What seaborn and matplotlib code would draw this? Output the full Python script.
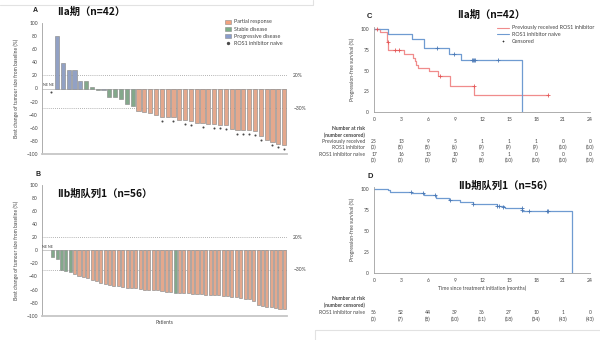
import matplotlib
matplotlib.use("Agg")
import matplotlib.pyplot as plt
import matplotlib.transforms as mtransforms
from matplotlib.lines import Line2D
from matplotlib.patches import Patch
import seaborn as sns
import pandas as pd

# ---------------- data ----------------
# Cohort IIa waterfall: 42 patients, first two not evaluable (NE)
iia_change = [None, None, 80, 39, 28, 28, 12, 11, 2, -2, -3, -13, -13, -16, -24, -26,
              -35, -36, -38, -40, -43, -44, -44, -48, -48, -49, -53, -53, -54, -54, -55, -56,
              -62, -63, -64, -64, -65, -73, -79, -81, -84, -86]
iia_response = (["NE", "NE", "PD", "PD", "PD", "PD", "PD", "SD", "SD", "SD", "PD",
                 "SD", "SD", "SD", "SD", "SD"] + ["PR"] * 26)
iia_naive = ([0, 1] + [0] * 14 +
             [0, 0, 0, 0, 1, 0, 1, 0, 1, 1, 0, 1, 0, 1, 1, 1, 0, 1, 1, 1, 1, 1, 0, 1, 1, 1])

# Cohort IIb-1 waterfall: 56 patients, first two not evaluable
iib_change = ([None, None, -10, -14, -30, -31, -33,
               -36, -40, -41, -42, -46, -47, -50, -51, -53, -54, -55, -56, -57, -58, -58,
               -59, -60, -60, -61, -61, -62, -63, -64,
               -65,
               -65, -66, -66, -67, -67, -67, -68, -68, -69, -69, -70, -70, -71, -72, -73,
               -74, -75, -77,
               -84, -85, -86, -87, -88, -89, -90])
iib_response = (["NE", "NE"] + ["SD"] * 5 + ["PR"] * 23 + ["SD"] + ["PR"] * 25)

# Progression-free survival step curves (months, %)
c_prev_t = [0, 0.7, 1.4, 1.6, 3.3, 4.3, 4.5, 4.7, 4.9, 6.1, 7.1, 8.4, 11.1, 19.3]
c_prev_s = [100, 96, 84, 75, 70, 65, 61, 57, 53, 49, 43, 31, 21, 21]
c_prev_cens_t = [0.35, 1.5, 2.3, 2.8, 7.3, 11.1, 19.3]
c_prev_cens_s = [100, 84, 75, 75, 43, 31, 21]

c_naive_t = [0, 1.5, 4.2, 5.5, 5.6, 8.3, 9.7, 16.4]
c_naive_s = [100, 94.1, 88.2, 82.4, 76.5, 70.1, 63.1, 0]
c_naive_cens_t = [7.0, 8.9, 10.9, 11.0, 11.1, 11.2, 13.8]
c_naive_cens_s = [76.5, 70.1, 63.1, 63.1, 63.1, 63.1, 63.1]

d_t = [0, 1.5, 1.8, 4.2, 5.6, 6.9, 8.3, 9.6, 11.0, 13.7, 14.4, 14.6, 16.4, 22.0]
d_s = [100, 98.5, 96.4, 94.5, 92.5, 88.6, 86.2, 83.8, 81.8, 79.8, 78.2, 76.6, 73.4, 0]
d_cens_t = [4.1, 5.4, 6.8, 8.4, 11.0, 13.7, 13.9, 14.3, 16.4, 16.4, 17.2, 19.2, 19.3]
d_cens_s = [96.4, 94.5, 92.5, 86.2, 81.8, 79.8, 79.8, 78.2, 76.6, 74.6, 73.4, 73.4, 73.4]

risk_times = [0, 3, 6, 9, 12, 15, 18, 21, 24]
c_prev_risk = [25, 13, 9, 5, 1, 1, 1, 0, 0]
c_prev_cens = [0, 5, 5, 6, 9, 9, 9, 10, 10]
c_naive_risk = [17, 16, 13, 10, 3, 1, 0, 0, 0]
c_naive_cens = [0, 0, 0, 2, 8, 10, 10, 10, 10]
d_risk = [56, 52, 44, 39, 36, 27, 10, 1, 0]
d_cens = [0, 7, 8, 10, 11, 18, 34, 43, 43]

# ---------------- styling ----------------
sns.set_theme(style="white")
plt.rcParams['font.family'] = ['Lato', 'Noto Sans CJK SC', 'DejaVu Sans']
CJK = ['Noto Sans CJK SC', 'DejaVu Sans']

PAL = {"PR": "#F2A27F", "SD": "#7DAE88", "PD": "#8A9DCC"}
EDGE = "#8c8c8c"
RED = "#F08C8C"
BLUE = "#6F9BD1"
BLUE_D = "#4B79B5"
GREY = "#8f8f8f"
TXT = "#444444"
SMALL = 3.6

W, H = 600, 340
fig = plt.figure(figsize=(6, 3.4), dpi=100)


def rect(l, t, r, b):
    return [l / W, 1 - b / H, (r - l) / W, (b - t) / H]


def ftxt(px, py, s, **kw):
    kw.setdefault("va", "center")
    kw.setdefault("fontsize", SMALL)
    kw.setdefault("color", TXT)
    fig.text(px / W, 1 - py / H, s, **kw)


# faint page frames
fig.add_artist(Line2D([0, 313 / W], [1 - 5 / H] * 2, color="#e2e2e2", lw=0.8))
fig.add_artist(Line2D([313 / W] * 2, [1, 1 - 5 / H], color="#e2e2e2", lw=0.8))
fig.add_artist(Line2D([315 / W, 1], [1 - 330 / H] * 2, color="#e2e2e2", lw=0.8))
fig.add_artist(Line2D([315 / W] * 2, [0, 1 - 330 / H], color="#e2e2e2", lw=0.8))


def waterfall(ax, change, response, xlim, width):
    df = pd.DataFrame({"pos": range(1, len(change) + 1),
                       "change": change, "response": response})
    df = df[df["response"] != "NE"]
    ax.axhline(0, color="#b5b5b5", lw=0.5, zorder=0)
    sns.barplot(data=df, x="pos", y="change", hue="response", palette=PAL,
                native_scale=True, dodge=False, width=width, errorbar=None,
                edgecolor=EDGE, linewidth=0.45, legend=False, ax=ax)
    ax.set_xlim(*xlim)
    ax.set_ylim(-100, 100)
    ax.set_yticks(range(-100, 101, 20))
    ax.set_xticks([])
    ax.set_xlabel("")
    ax.set_ylabel("Best change of tumour size from baseline (%)", fontsize=SMALL,
                  color=TXT, labelpad=5)
    ax.tick_params(axis="y", labelsize=SMALL, length=2, width=0.5, colors=GREY,
                   labelcolor=TXT, pad=1)
    for s in ["top", "right"]:
        ax.spines[s].set_visible(False)
    ax.spines["left"].set_color("#a0a0a0")
    ax.spines["left"].set_linewidth(0.6)
    ax.spines["bottom"].set_color("#c6c6c6")
    ax.spines["bottom"].set_linewidth(1.3)
    tr = mtransforms.blended_transform_factory(ax.transAxes, ax.transData)
    for yv, lab in [(20, "20%"), (-30, "\u221230%")]:
        ax.axhline(yv, color="#9a9a9a", lw=0.6, ls=(0, (1, 1.5)), zorder=0.5)
        ax.text(1.025, yv, lab, transform=tr, fontsize=SMALL, color=TXT, va="center")
    ax.text(0.55, 2, "NE NE", fontsize=2.6, color=TXT, va="bottom", ha="left")


# ---- panel A ----
axA = fig.add_axes(rect(42, 23, 287, 154))
waterfall(axA, iia_change, iia_response, (0.43, 42.5), 0.72)
naive_pos = [i + 1 for i, f in enumerate(iia_naive) if f]
naive_y = [(iia_change[i - 1] or 0) - 6 for i in naive_pos]
axA.scatter(naive_pos, naive_y, s=2.2, color="#4a4a4a", zorder=3, linewidths=0)
handles = [Patch(facecolor=PAL["PR"], edgecolor=EDGE, lw=0.4, label="Partial response"),
           Patch(facecolor=PAL["SD"], edgecolor=EDGE, lw=0.4, label="Stable disease"),
           Patch(facecolor=PAL["PD"], edgecolor=EDGE, lw=0.4, label="Progressive disease"),
           Line2D([], [], marker="o", ms=1.4, color="#4a4a4a", lw=0,
                  label="ROS1 inhibitor naive")]
leg = axA.legend(handles=handles, loc="upper left", bbox_to_anchor=(225 / W, 1 - 19.5 / H),
                 bbox_transform=fig.transFigure, fontsize=3.9, frameon=False,
                 handlelength=1.15, handleheight=0.75, labelspacing=0.38,
                 handletextpad=0.5, borderpad=0, borderaxespad=0)
for t in leg.get_texts():
    t.set_color(TXT)
ftxt(33, 11, "A", fontsize=5, fontweight="bold", family="Liberation Sans", color="#222")
ftxt(57, 12, "IIa期（n=42）", fontsize=7.4, fontweight="bold", family=CJK,
     color="#111")

# ---- panel B ----
axB = fig.add_axes(rect(42, 185, 287, 315.7))
waterfall(axB, iib_change, iib_response, (0.54, 56.6), 0.7)
axB.set_xlabel("Patients", fontsize=SMALL, color=TXT, labelpad=3)
ftxt(35, 174, "B", fontsize=5, fontweight="bold", family="Liberation Sans", color="#222")
ftxt(57, 194, "IIb期队列1（n=56）", fontsize=7.4, fontweight="bold", family=CJK,
     color="#111")


# ---- survival panels ----
def km_axes(ax):
    ax.set_xlim(0, 24)
    ax.set_ylim(0, 102.4)
    ax.set_xticks(risk_times)
    ax.set_yticks([0, 25, 50, 75, 100])
    ax.tick_params(labelsize=SMALL, length=2, width=0.5, colors=GREY,
                   labelcolor=TXT, pad=1.5)
    for s in ["top", "right"]:
        ax.spines[s].set_visible(False)
    for s in ["left", "bottom"]:
        ax.spines[s].set_color("#a0a0a0")
        ax.spines[s].set_linewidth(0.6)
    ax.set_ylabel("Progression-free survival (%)", fontsize=SMALL, color=TXT, labelpad=4)


def km_line(ax, t, s, color):
    sns.lineplot(x=t, y=s, drawstyle="steps-post", estimator=None, sort=False,
                 color=color, lw=0.9, ax=ax)


def risk_row(ax, py, values, fmt):
    tr = mtransforms.blended_transform_factory(ax.transData, fig.transFigure)
    for xv, v in zip(risk_times, values):
        ax.text(xv, 1 - py / H, fmt.format(v), transform=tr, ha="center", va="center",
                fontsize=SMALL, color=TXT)


axC = fig.add_axes(rect(374, 26.7, 590, 112.3))
km_axes(axC)
km_line(axC, c_prev_t, c_prev_s, RED)
km_line(axC, c_naive_t, c_naive_s, BLUE)
axC.scatter(c_prev_cens_t, c_prev_cens_s, marker="+", s=5, color="#E45757",
            linewidths=0.6, zorder=3)
axC.scatter(c_naive_cens_t, c_naive_cens_s, marker="+", s=5, color=BLUE_D,
            linewidths=0.6, zorder=3)
khandles = [Line2D([], [], color=RED, lw=0.8, label="Previously received ROS1 inhibitor"),
            Line2D([], [], color=BLUE, lw=0.8, label="ROS1 inhibitor naive"),
            Line2D([], [], color="#333", marker="+", ms=2, mew=0.5, lw=0,
                   label="Censored")]
leg = axC.legend(handles=khandles, loc="upper left", bbox_to_anchor=(497 / W, 1 - 25.5 / H),
                 bbox_transform=fig.transFigure, fontsize=3.9, frameon=False,
                 handlelength=2.3, labelspacing=0.3, handletextpad=0.5,
                 borderpad=0, borderaxespad=0)
for t in leg.get_texts():
    t.set_color(TXT)
ftxt(367, 17, "C", fontsize=5.5, fontweight="bold", family="Liberation Sans", color="#222")
ftxt(491, 15, "IIa期（n=42）", fontsize=7.4, fontweight="bold", family=CJK,
     color="#111", ha="center")
ftxt(365, 129, "Number at risk", ha="right", fontweight="bold")
ftxt(365, 135, "(number censored)", ha="right", fontweight="bold")
ftxt(365, 141.7, "Previously received", ha="right")
ftxt(365, 147.3, "ROS1 inhibitor", ha="right")
ftxt(365, 155, "ROS1 inhibitor naive", ha="right")
risk_row(axC, 141.7, c_prev_risk, "{}")
risk_row(axC, 147.3, c_prev_cens, "({})")
risk_row(axC, 155, c_naive_risk, "{}")
risk_row(axC, 160.5, c_naive_cens, "({})")

axD = fig.add_axes(rect(374, 186.7, 590, 272.7))
km_axes(axD)
km_line(axD, d_t, d_s, BLUE)
axD.scatter(d_cens_t, d_cens_s, marker="+", s=5, color=BLUE_D, linewidths=0.6, zorder=3)
axD.set_xlabel("Time since treatment initiation (months)", fontsize=SMALL, color=TXT,
               labelpad=2.5)
ftxt(368, 176, "D", fontsize=5.5, fontweight="bold", family="Liberation Sans", color="#222")
ftxt(506, 186, "IIb期队列1（n=56）", fontsize=7.4, fontweight="bold", family=CJK,
     color="#111", ha="center")
ftxt(365, 299, "Number at risk", ha="right", fontweight="bold")
ftxt(365, 305, "(number censored)", ha="right", fontweight="bold")
ftxt(365, 312.3, "ROS1 inhibitor naive", ha="right")
risk_row(axD, 312.3, d_risk, "{}")
risk_row(axD, 319, d_cens, "({})")

fig.savefig("out.png", dpi=100)
